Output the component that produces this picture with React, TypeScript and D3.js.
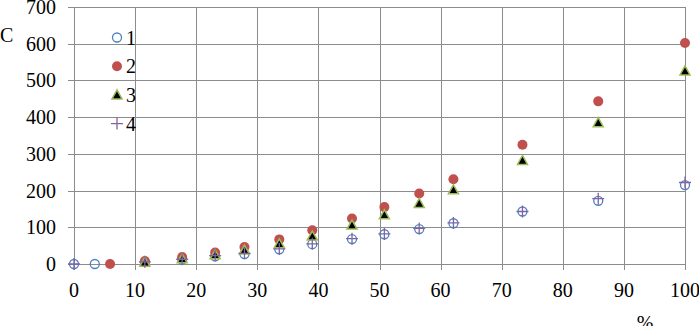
import * as d3 from "d3";

// x positions (%) for each series
const x1 = [0, 3.4, 11.6, 17.7, 23.1, 27.9, 33.6, 39.0, 45.5, 50.8, 56.5, 62.1, 73.4, 85.8, 100];
const y1 = [0, 0, 5, 12, 21, 27, 40, 54, 68, 81, 95, 111, 143, 172, 215];

const x2 = [5.9, 11.6, 17.7, 23.1, 27.9, 33.6, 39.0, 45.5, 50.8, 56.5, 62.1, 73.4, 85.8, 100];
const y2 = [0, 8, 19, 31, 46, 67, 92, 124, 155, 192, 231, 325, 443, 602];

const x3 = [11.6, 17.7, 23.1, 27.9, 33.6, 39.0, 45.5, 50.8, 56.5, 62.1, 73.4, 85.8, 100];
const y3 = [5, 14, 25, 38, 55, 76, 106, 134, 165, 202, 282, 385, 526];

const x4 = [0, 11.6, 17.7, 23.1, 27.9, 33.6, 39.0, 45.5, 50.8, 56.5, 62.1, 73.4, 85.8, 100];
const y4 = [0, 6, 13, 23, 29, 41, 55, 69, 82, 97, 112, 143, 178, 222];

const xTicks = [0, 10, 20, 30, 40, 50, 60, 70, 80, 90, 100];
const yTicks = [0, 100, 200, 300, 400, 500, 600, 700];
const seriesNames = ["1", "2", "3", "4"];

const gridColor = "#8c8c8c";

const width = 699;
const height = 326;
const margin = { top: 7, right: 14, bottom: 62, left: 74 };

const xScale = d3.scaleLinear().domain([0, 100]).range([margin.left, width - margin.right]);
const yScale = d3.scaleLinear().domain([0, 700]).range([height - margin.bottom, margin.top]);

function Marker({ kind, cx, cy }) {
	if (kind === 0) {
		return <circle cx={cx} cy={cy} r={4.5} fill="none" stroke="#4f81bd" strokeWidth={1.3} />;
	}
	if (kind === 1) {
		return <circle cx={cx} cy={cy} r={5} fill="#c0504d" />;
	}
	if (kind === 2) {
		const s = 5;
		return (
			<path
				d={`M${cx},${cy - s}L${cx + s},${cy + s * 0.8}L${cx - s},${cy + s * 0.8}Z`}
				fill="#000"
				stroke="#9bbb59"
				strokeWidth={1.5}
			/>
		);
	}
	const s = 6;
	return <path d={`M${cx - s},${cy}H${cx + s}M${cx},${cy - s}V${cy + s}`} stroke="#8064a2" strokeWidth={1.3} fill="none" />;
}

export default function App() {
	const series = [
		[x1, y1],
		[x2, y2],
		[x3, y3],
		[x4, y4],
	];
	const px = (v) => Math.round(v) + 0.5;

	return (
		<>
			<style>{"body{margin:0}"}</style>
			<svg width={width} height={height} style={{ display: "block", background: "#fff" }}>
				{/* grid */}
				{yTicks.map((d) => (
					<line key={"gy" + d} x1={xScale(0) - 6} x2={xScale(100)} y1={px(yScale(d))} y2={px(yScale(d))} stroke={gridColor} />
				))}
				{xTicks.map((d) => (
					<line key={"gx" + d} x1={px(xScale(d))} x2={px(xScale(d))} y1={yScale(700)} y2={yScale(0) + 6} stroke={gridColor} />
				))}

				{/* tick labels */}
				{yTicks.map((d) => (
					<text key={"ty" + d} x={56} y={yScale(d) + 7} textAnchor="end" fontFamily="serif" fontSize={20}>
						{d}
					</text>
				))}
				{xTicks.map((d) => (
					<text key={"tx" + d} x={xScale(d)} y={297} textAnchor="middle" fontFamily="serif" fontSize={20}>
						{d}
					</text>
				))}

				{/* axis labels */}
				<text x={0} y={42} fontFamily="serif" fontSize={20}>
					C
				</text>
				<text x={645} y={330} textAnchor="middle" fontFamily="serif" fontSize={20}>
					%
				</text>

				{/* markers */}
				{series.map(([xs, ys], i) => (
					<g key={"s" + i}>
						{xs.map((xv, j) => (
							<Marker key={j} kind={i} cx={xScale(xv)} cy={yScale(ys[j])} />
						))}
					</g>
				))}

				{/* legend */}
				{seriesNames.map((name, i) => {
					const ly = 37.5 + i * 28.7;
					return (
						<g key={"l" + i}>
							<Marker kind={i} cx={117} cy={ly} />
							<text x={126} y={ly + 7} fontFamily="serif" fontSize={20}>
								{name}
							</text>
						</g>
					);
				})}
			</svg>
		</>
	);
}
